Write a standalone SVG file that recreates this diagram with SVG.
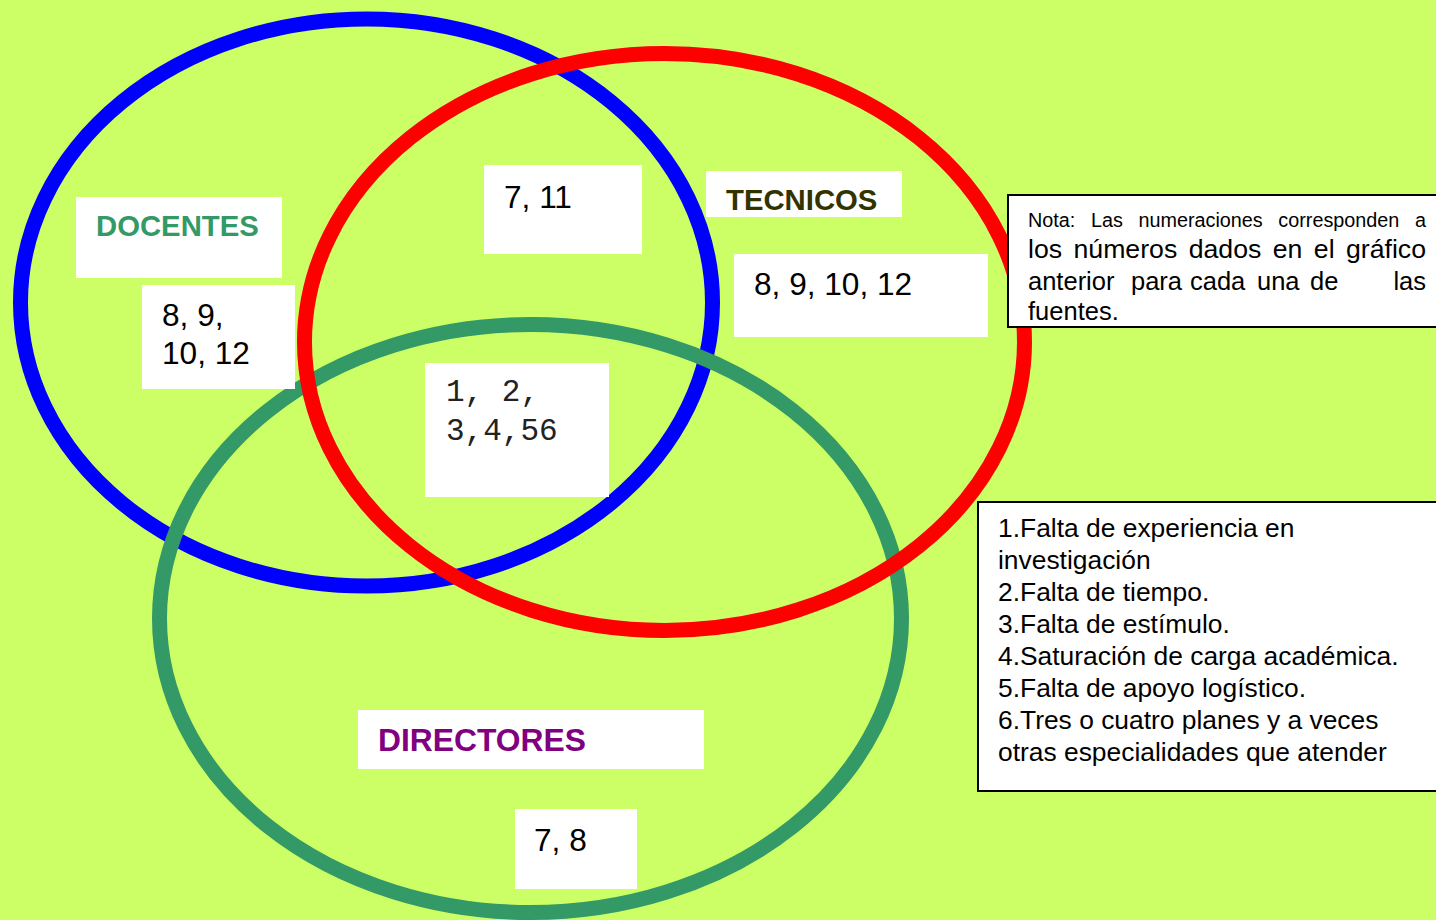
<svg xmlns="http://www.w3.org/2000/svg" width="1436" height="920" viewBox="0 0 1436 920">
<style>
.ring{fill:none;stroke-width:15}
.box{fill:#ffffff}
.frame{fill:#ffffff;stroke:#000000;stroke-width:2}
.t{font-family:"Liberation Sans",Arial,sans-serif;fill:#000000}
.lbl{font-family:"Liberation Sans",Arial,sans-serif;font-weight:bold}
.mono{font-family:"Liberation Mono","Courier New",monospace;fill:#222222;font-size:31px}
.num{font-size:31.6px}
.note1{font-size:19.5px;word-spacing:10px}
.note2{font-size:26.5px;word-spacing:4px}
.note3{font-size:25.5px}
.list{font-size:26.4px}
</style>
<rect x="0" y="0" width="1436" height="920" fill="#ccff66"/>
<g id="connectors">
<ellipse id="ring-docentes" class="ring" cx="366.5" cy="302.5" rx="346" ry="283.5" stroke="#0000ff"/>
<ellipse id="ring-directores" class="ring" cx="530.5" cy="618.5" rx="371" ry="294" stroke="#339966"/>
<ellipse id="ring-tecnicos" class="ring" cx="664.5" cy="342" rx="360" ry="288.5" stroke="#ff0000"/>
</g>
<g id="docentes-label">
<rect class="box" x="76" y="197" width="206" height="81"/>
<text class="lbl" x="96" y="236" font-size="29.3" fill="#339966">DOCENTES</text>
</g>
<g id="docentes-nums">
<rect class="box" x="142" y="285" width="153" height="104"/>
<text class="t num" x="162" y="326">8, 9,</text>
<text class="t num" x="162" y="364">10, 12</text>
</g>
<g id="docentes-tecnicos">
<rect class="box" x="484" y="165" width="158" height="89"/>
<text class="t num" x="504" y="208">7, 11</text>
</g>
<g id="tecnicos-label">
<rect class="box" x="706" y="171" width="196" height="46"/>
<text class="lbl" x="726" y="210" font-size="29.3" fill="#333300">TECNICOS</text>
</g>
<g id="tecnicos-nums">
<rect class="box" x="734" y="254" width="254" height="83"/>
<text class="t num" x="754" y="295">8, 9, 10, 12</text>
</g>
<g id="center">
<rect class="box" x="425" y="363" width="184" height="134"/>
<text class="mono" x="446" y="401" xml:space="preserve">1, 2,</text>
<text class="mono" x="446" y="440">3,4,56</text>
</g>
<g id="directores-label">
<rect class="box" x="358" y="710" width="346" height="59"/>
<text class="lbl" x="378" y="751" font-size="31.8" fill="#800080">DIRECTORES</text>
</g>
<g id="directores-nums">
<rect class="box" x="515" y="809" width="122" height="80"/>
<text class="t num" x="534" y="851">7, 8</text>
</g>
<g id="nota">
<rect class="frame" x="1008" y="195" width="440" height="132"/>
<text class="t note1" x="1028" y="227" textLength="398" lengthAdjust="spacingAndGlyphs">Nota: Las numeraciones corresponden a</text>
<text class="t note2" x="1028" y="258" textLength="398" lengthAdjust="spacingAndGlyphs">los números dados en el gráfico</text>
<text class="t note3" y="290"><tspan x="1028">anterior</tspan><tspan x="1131">para</tspan><tspan x="1190">cada</tspan><tspan x="1257">una</tspan><tspan x="1310">de</tspan></text>
<text class="t note3" x="1426" y="290" text-anchor="end">las</text>
<text class="t note3" x="1028" y="320">fuentes.</text>
</g>
<g id="lista">
<rect class="frame" x="978" y="502" width="470" height="289"/>
<text class="t list" x="998" y="537">1.Falta de experiencia en</text>
<text class="t list" x="998" y="569">investigación</text>
<text class="t list" x="998" y="601">2.Falta de tiempo.</text>
<text class="t list" x="998" y="633">3.Falta de estímulo.</text>
<text class="t list" x="998" y="665">4.Saturación de carga académica.</text>
<text class="t list" x="998" y="697">5.Falta de apoyo logístico.</text>
<text class="t list" x="998" y="729">6.Tres o cuatro planes y a veces</text>
<text class="t list" x="998" y="761">otras especialidades que atender</text>
</g>
</svg>
